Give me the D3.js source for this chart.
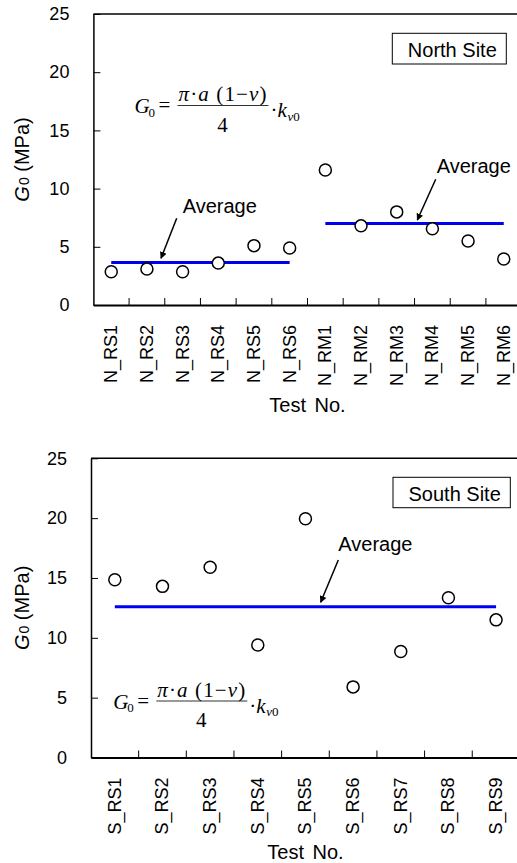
<!DOCTYPE html>
<html>
<head>
<meta charset="utf-8">
<script src="https://cdn.jsdelivr.net/npm/d3@7"></script>
<style>
  body { margin: 0; background: #fff; }
  svg { display: block; font-family: "Liberation Sans", Arial, sans-serif; }
</style>
</head>
<body>
<svg id="chart" width="517" height="863"></svg>
<script>
// north site tests
const northTests = ["N_RS1", "N_RS2", "N_RS3", "N_RS4", "N_RS5", "N_RS6",
                    "N_RM1", "N_RM2", "N_RM3", "N_RM4", "N_RM5", "N_RM6"]
const northG0 = [2.85, 3.1, 2.85, 3.6, 5.1, 4.9, 11.6, 6.8, 8.0, 6.55, 5.5, 3.95]
const northAverages = [
    {from: "N_RS1", to: "N_RS6", value: 3.65},
    {from: "N_RM1", to: "N_RM6", value: 7.0}
]

// south site tests
const southTests = ["S_RS1", "S_RS2", "S_RS3", "S_RS4", "S_RS5", "S_RS6", "S_RS7", "S_RS8", "S_RS9"]
const southG0 = [14.85, 14.3, 15.9, 9.4, 19.95, 5.9, 8.85, 13.35, 11.5]
const southAverages = [{from: "S_RS1", to: "S_RS9", value: 12.6}]

const yTicks = [0, 5, 10, 15, 20, 25]

const svg = d3.select("#chart")

svg.append("defs").append("marker")
    .attr("id", "arrow")
    .attr("viewBox", "0 0 10 10")
    .attr("refX", 9).attr("refY", 5)
    .attr("markerWidth", 7).attr("markerHeight", 7)
    .attr("markerUnits", "userSpaceOnUse")
    .attr("orient", "auto")
    .append("path")
    .attr("d", "M0,0 L10,5 L0,10 Z")
    .attr("fill", "black")

function drawFormula(g, x0, y0) {
    // G0 = pi a (1-nu) / 4 * kv0, origin at left of G and fraction bar
    const f = g.append("g").attr("font-family", "'Liberation Serif', 'Times New Roman', serif")
    f.append("text").attr("x", x0).attr("y", y0 + 7.5).attr("font-size", 21)
        .attr("font-style", "italic").text("G")
    f.append("text").attr("x", x0 + 14).attr("y", y0 + 11).attr("font-size", 13).text("0")
    f.append("text").attr("x", x0 + 24).attr("y", y0 + 6.5).attr("font-size", 21).text("=")
    f.append("line")
        .attr("x1", x0 + 43).attr("x2", x0 + 134)
        .attr("y1", y0).attr("y2", y0)
        .attr("stroke", "#333").attr("stroke-width", 1)
    const num = f.append("text")
        .attr("x", x0 + 44).attr("y", y0 - 4.5).attr("font-size", 21)
        .attr("textLength", 88).attr("lengthAdjust", "spacing")
    num.append("tspan").attr("font-style", "italic").text("π")
    num.append("tspan").text("·")
    num.append("tspan").attr("font-style", "italic").text("a")
    num.append("tspan").text(" (1−")
    num.append("tspan").attr("font-style", "italic").text("ν")
    num.append("tspan").text(")")
    f.append("text").attr("x", x0 + 88).attr("y", y0 + 26).attr("font-size", 21)
        .attr("text-anchor", "middle").text("4")
    f.append("text").attr("x", x0 + 136).attr("y", y0 + 11.5).attr("font-size", 21).text("·")
    f.append("text").attr("x", x0 + 143).attr("y", y0 + 11.5).attr("font-size", 21)
        .attr("font-style", "italic").text("k")
    const sub = f.append("text").attr("x", x0 + 153).attr("y", y0 + 15).attr("font-size", 13)
    sub.append("tspan").attr("font-style", "italic").text("v")
    sub.append("tspan").text("0")
}

function drawPanel(opts) {
    const {tests, values, averages, left, right, top, bottom, site, box, note, formula, titleY} = opts
    const g = svg.append("g")

    const x = d3.scaleBand().domain(tests).range([left, right])
    const y = d3.scaleLinear().domain([0, 25]).range([bottom, top])

    // frame: top line
    g.append("line")
        .attr("x1", left).attr("x2", 517)
        .attr("y1", top).attr("y2", top)
        .attr("stroke", "black").attr("stroke-width", 1.5)

    // y axis, ticks pointing inside
    const yAxis = g.append("g")
        .attr("transform", `translate(${left},0)`)
        .call(d3.axisLeft(y).tickValues(yTicks).tickSizeInner(-7).tickSizeOuter(0).tickPadding(24))
    yAxis.select(".domain").attr("stroke-width", 1.5)
    yAxis.selectAll(".tick line").attr("stroke-width", 1)
    yAxis.selectAll("text").attr("font-size", 18).attr("font-family", null).attr("fill", "black")

    // x axis with rotated labels
    const xAxis = g.append("g")
        .attr("transform", `translate(0,${bottom})`)
        .call(d3.axisBottom(x).tickSize(0).tickSizeOuter(0))
    xAxis.select(".domain").attr("stroke-width", 2)
    xAxis.selectAll("text")
        .attr("font-size", 18).attr("font-family", null).attr("fill", "black")
        .attr("transform", "rotate(-90)")
        .attr("text-anchor", "end")
        .attr("x", -20).attr("y", 0).attr("dy", "0.33em")
    // ticks between the tests
    g.selectAll(".xtick")
        .data(tests.slice(1))
        .join("line")
        .attr("class", "xtick")
        .attr("x1", d => x(d)).attr("x2", d => x(d))
        .attr("y1", bottom).attr("y2", bottom - 7)
        .attr("stroke", "black").attr("stroke-width", 1)

    // axis titles
    const yt = g.append("text")
        .attr("transform", `translate(29,${(top + bottom) / 2}) rotate(-90)`)
        .attr("text-anchor", "middle").attr("font-size", 20)
    yt.append("tspan").attr("font-style", "italic").text("G")
    yt.append("tspan").attr("font-size", 14).attr("dx", 1).text("0")
    yt.append("tspan").text(" (MPa)")

    g.append("text")
        .attr("x", (left + right) / 2).attr("y", titleY)
        .attr("text-anchor", "middle").attr("font-size", 20)
        .attr("word-spacing", 3)
        .text("Test No.")

    // average lines
    g.selectAll(".avg")
        .data(averages)
        .join("line")
        .attr("class", "avg")
        .attr("x1", d => x(d.from) + x.bandwidth() / 2)
        .attr("x2", d => x(d.to) + x.bandwidth() / 2)
        .attr("y1", d => y(d.value)).attr("y2", d => y(d.value))
        .attr("stroke", "#0000f0").attr("stroke-width", 3)

    // test points
    g.selectAll(".pt")
        .data(tests.map((t, i) => ({test: t, value: values[i]})))
        .join("circle")
        .attr("class", "pt")
        .attr("cx", d => x(d.test) + x.bandwidth() / 2)
        .attr("cy", d => y(d.value))
        .attr("r", 6)
        .attr("fill", "white").attr("stroke", "black").attr("stroke-width", 1.5)

    // "Average" notes with arrows
    note.forEach(n => {
        g.append("text")
            .attr("x", n.tx).attr("y", n.ty)
            .attr("font-size", 20).text("Average")
        g.append("line")
            .attr("x1", n.x1).attr("y1", n.y1)
            .attr("x2", n.x2).attr("y2", n.y2)
            .attr("stroke", "black").attr("stroke-width", 1.5)
            .attr("marker-end", "url(#arrow)")
    })

    // site label in a box
    g.append("rect")
        .attr("x", box[0]).attr("y", box[1])
        .attr("width", box[2] - box[0]).attr("height", box[3] - box[1])
        .attr("fill", "white").attr("stroke", "black").attr("stroke-width", 1)
    g.append("text")
        .attr("x", (box[0] + box[2]) / 2 + 3).attr("y", box[3] - 7)
        .attr("text-anchor", "middle").attr("font-size", 20)
        .text(site)

    drawFormula(g, formula[0], formula[1])
}

drawPanel({
    tests: northTests, values: northG0, averages: northAverages,
    left: 93.4, right: 521.6, top: 14, bottom: 305,
    site: "North Site", box: [392.3, 33.3, 506.3, 64],
    note: [
        {tx: 182.7, ty: 212.7, x1: 176.7, y1: 218.3, x2: 161, y2: 258.3},
        {tx: 436.7, ty: 173.3, x1: 435.7, y1: 179.3, x2: 417.3, y2: 220}
    ],
    formula: [134.5, 105.5], titleY: 412
})

drawPanel({
    tests: southTests, values: southG0, averages: southAverages,
    left: 91, right: 519.9, top: 458.3, bottom: 757.5,
    site: "South Site", box: [393, 477.3, 510.3, 507.7],
    note: [
        {tx: 338.3, ty: 550.7, x1: 338.3, y1: 560, x2: 320.7, y2: 602.3}
    ],
    formula: [113.3, 701], titleY: 859
})
</script>
</body>
</html>
